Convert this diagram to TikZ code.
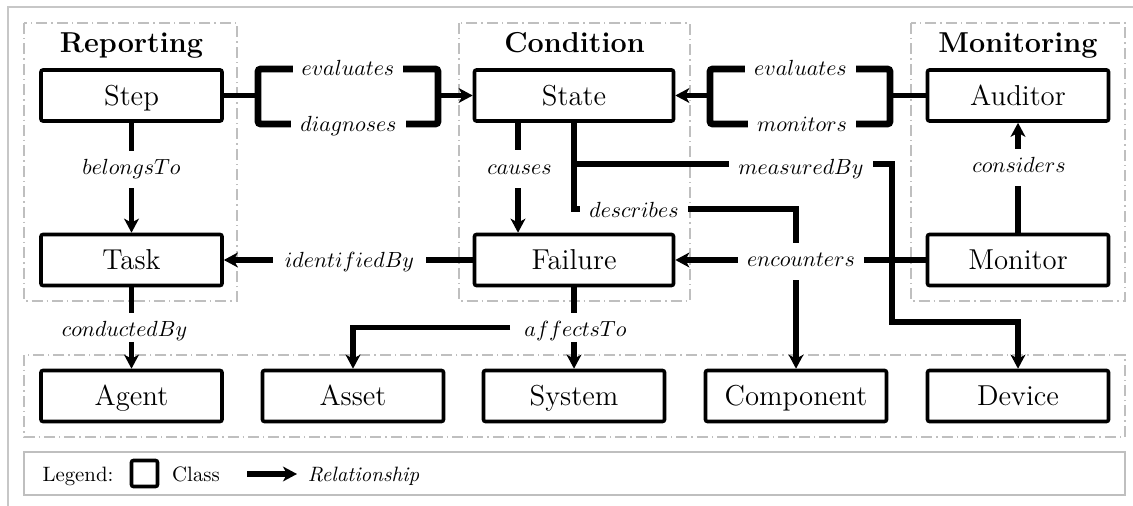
\documentclass[tikz,border=0pt]{standalone}
\usepackage{fontspec}
\usetikzlibrary{arrows.meta}
\begin{document}
\begin{tikzpicture}[x=0.5pt,y=-0.5pt,
  cls/.style={draw, line width=1.8pt, rounded corners=1pt, minimum width=90.5pt,
    minimum height=25.5pt, inner sep=0pt, font=\fontsize{14.4}{17}\selectfont,
    text height=9.8pt, text depth=0pt},
  wide/.style={minimum width=99.5pt},
  grp/.style={draw=black!25, line width=0.7pt, dash pattern=on 5.5pt off 2pt on 0.7pt off 2pt},
  ttl/.style={font=\fontsize{14.4}{17}\selectfont\bfseries, anchor=base},
  rel/.style={line width=2.6pt},
  arr/.style={rel, -{Stealth[length=7pt,width=7.4pt,inset=2pt]}},
  brk/.style={line width=3.3pt, rounded corners=1.2pt},
  lbl/.style={fill=white, inner xsep=4.5pt, inner ysep=4.5pt, anchor=base,
    font=\fontsize{10.95}{13}\selectfont, text height=7.6pt, text depth=2.1pt},
  lgtxt/.style={anchor=base, font=\fontsize{10.4}{12}\selectfont},
]
\useasboundingbox (0,0) rectangle (1133,506);

% outer frame
\draw[black!22, line width=0.9pt] (1133,7) -- (8,7) -- (8,506);

% package groups
\draw[grp] (24,23) rectangle (237,301);
\draw[grp] (459,23) rectangle (690,301);
\draw[grp] (911,23) rectangle (1125,301);
\draw[grp] (24,355) rectangle (1125,437);

% legend frame
\draw[black!25, line width=0.8pt] (24,452) rectangle (1125,495);

% group titles
\node[ttl] (tRep) at (131.5,52.5) {Reporting};
\node[ttl] (tCon) at (574.5,52.5) {Condition};
\node[ttl] (tMon) at (1018,52.5) {Monitoring};

% classes
\node[cls] (step) at (131.5,95.5) {Step};
\node[cls] (task) at (131.5,260) {Task};
\node[cls,wide] (state) at (574,95.5) {State};
\node[cls,wide] (failure) at (574,260) {Failure};
\node[cls] (auditor) at (1018,95.5) {Auditor};
\node[cls] (monitor) at (1018,260) {Monitor};
\node[cls] (agent) at (131.5,396) {Agent};
\node[cls] (asset) at (353,396) {Asset};
\node[cls] (system) at (574,396) {System};
\node[cls] (component) at (796,396) {Component};
\node[cls] (device) at (1018,396) {Device};

% Step -> State (bundled relations)
\coordinate (bkL) at (258,95.5);
\coordinate (bkR) at (438,95.5);
\draw[rel] (step) -- (bkL);
\draw[brk] (258,69) rectangle (438,124);
\draw[arr] (bkR) -- (state);

% Auditor -> State (bundled relations)
\coordinate (bkL2) at (710,95.5);
\coordinate (bkR2) at (890,95.5);
\draw[rel] (auditor) -- (bkR2);
\draw[brk] (710,69) rectangle (890,124);
\draw[arr] (bkL2) -- (state);

% Step -> Task
\draw[arr] (step) -- (task);

% Task -> Agent
\coordinate (cbTop) at (131.5,313);
\coordinate (cbBot) at (131.5,342);
\draw[rel] (task) -- (cbTop);
\draw[arr] (cbBot) -- (agent);

% State -> Failure
\draw[arr] ([xshift=-28pt]state.south) -- ([xshift=-28pt]failure.north);

% State -> Component
\coordinate (dsc) at (796,209);
\draw[arr] (state.south) |- (dsc) -- (component.north);

% State -> Device
\coordinate (msr) at (892,164);
\coordinate (msd) at (1018,322);
\draw[arr] (state.south) |- (msr) |- (msd) -- (device.north);

% Failure -> Task, Monitor -> Failure, Monitor -> Auditor
\draw[arr] (failure) -- (task);
\draw[arr] (monitor) -- (failure);
\draw[arr] (monitor) -- (auditor);

% Failure -> System / Asset
\coordinate (afTop) at (574,313);
\coordinate (afBot) at (574,342);
\draw[rel] (failure) -- (afTop);
\draw[arr] (afBot) -- (system);
\node[lbl, fill=none, inner xsep=7pt] (lAff) at (575.5,336.5) {$affectsTo$};
\draw[arr] ([yshift=1.75pt]lAff.west) -| (asset.north);

% relation labels
\node[lbl] (lEv1) at (348,76) {$evaluates$};
\node[lbl] (lDia) at (348.5,131.5) {$diagnoses$};
\node[lbl] (lEv2) at (800.5,76) {$evaluates$};
\node[lbl] (lMot) at (802,131.5) {$monitors$};
\node[lbl] (lBel) at (131.5,175) {$belongsTo$};
\node[lbl, fill=none] (lCdb) at (124.5,337) {$conductedBy$};
\node[lbl] (lCau) at (519.5,174.5) {$causes$};
\node[lbl] (lMea) at (801,175) {$measuredBy$};
\node[lbl] (lDes) at (634,217.5) {$describes$};
\node[lbl] (lEnc) at (801,267) {$encounters$};
\node[lbl, inner xsep=6pt] (lIde) at (349.5,268) {$identifiedBy$};
\node[lbl] (lCns) at (1019,173) {$considers$};

% legend
\node[lgtxt] (lgd) at (78,481.5) {Legend:};
\node[draw, line width=1.8pt, rounded corners=1pt, minimum size=13pt, inner sep=0pt] (lgCls) at (144.5,473.5) {};
\node[lgtxt] (lgClsT) at (196,481.5) {Class};
\coordinate (lgA1) at (247,474);
\coordinate (lgA2) at (297,474);
\draw[arr] (lgA1) -- (lgA2);
\node[lgtxt, font=\fontsize{10.4}{12}\selectfont\itshape] (lgRel) at (363.5,481.5) {Relationship};
\end{tikzpicture}
\end{document}
